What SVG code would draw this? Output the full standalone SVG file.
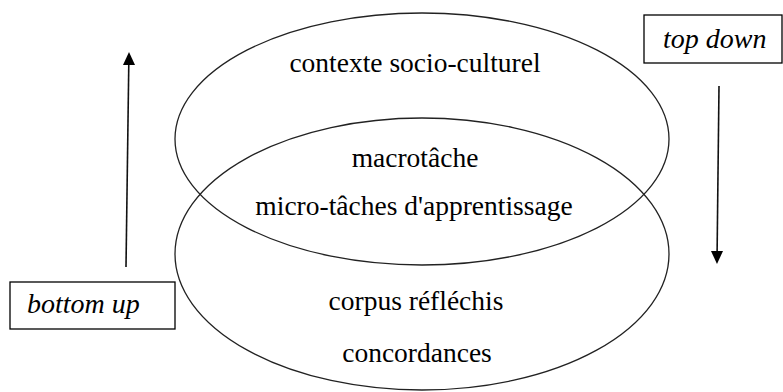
<svg xmlns="http://www.w3.org/2000/svg" width="783" height="392" viewBox="0 0 783 392">
<defs>
<style>
.ell{fill:none;stroke:#222;stroke-width:1.3}
.box{fill:#fff;stroke:#000;stroke-width:1.3}
</style>
</defs>
<rect width="783" height="392" fill="#fff"/>
<g id="ellipse-top">
<ellipse class="ell" cx="422" cy="139" rx="247" ry="126"/>
</g>
<g id="ellipse-bottom">
<ellipse class="ell" cx="422" cy="254" rx="247" ry="136"/>
</g>
<g id="label-contexte"><text x="415" y="72" text-anchor="middle" font-family="'Liberation Serif','Times New Roman','DejaVu Serif',serif" font-size="27.5">contexte socio-culturel</text></g>
<g id="label-macro"><text x="415" y="167" text-anchor="middle" font-family="'Liberation Serif','Times New Roman','DejaVu Serif',serif" font-size="27.5">macrotâche</text></g>
<g id="label-micro"><text x="414" y="215" text-anchor="middle" font-family="'Liberation Serif','Times New Roman','DejaVu Serif',serif" font-size="27.5">micro-tâches d'apprentissage</text></g>
<g id="label-corpus"><text x="416" y="310" text-anchor="middle" font-family="'Liberation Serif','Times New Roman','DejaVu Serif',serif" font-size="27.5">corpus réfléchis</text></g>
<g id="label-concord"><text x="417" y="362" text-anchor="middle" font-family="'Liberation Serif','Times New Roman','DejaVu Serif',serif" font-size="27.5">concordances</text></g>
<g id="bottom-up">
<rect class="box" x="10" y="282" width="165" height="47"/>
<text x="27" y="313" font-family="'Liberation Serif','Times New Roman','DejaVu Serif',serif" font-style="italic" font-size="28">bottom up</text>
</g>
<g id="top-down">
<rect class="box" x="644" y="15" width="138" height="48"/>
<text x="663" y="48" font-family="'Liberation Serif','Times New Roman','DejaVu Serif',serif" font-style="italic" font-size="28">top down</text>
</g>
<g id="connectors" stroke="#111" stroke-width="1.6" fill="#000">
<line x1="126" y1="267" x2="128.8" y2="63"/>
<polygon points="129,52 123,65 135,65" stroke="none"/>
<line x1="719" y1="86" x2="717.1" y2="253"/>
<polygon points="717,264 711,251 723,251" stroke="none"/>
</g>
</svg>
